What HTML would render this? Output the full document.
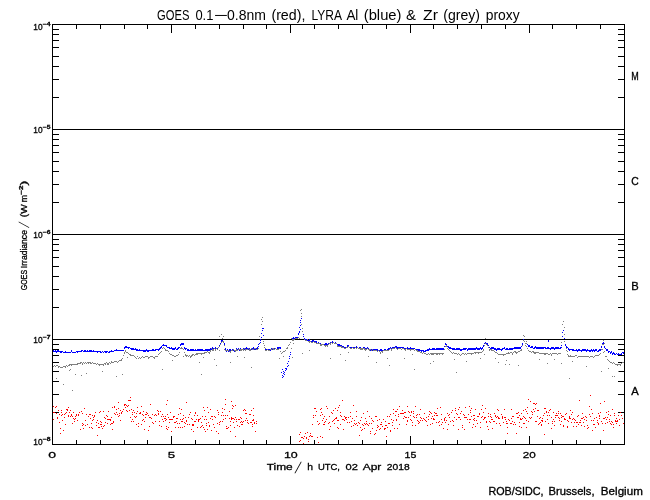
<!DOCTYPE html>
<html><head><meta charset="utf-8"><title>GOES / LYRA proxy</title>
<style>html,body{margin:0;padding:0;background:#fff}svg{display:block;will-change:transform}text{font-family:"Liberation Sans",sans-serif;fill:#000}</style></head>
<body>
<svg width="650" height="500" viewBox="0 0 650 500">
<rect width="650" height="500" fill="#fff"/>
<path shape-rendering="crispEdges" fill="#000" d="M52 24h573v1h-573zM52 444h573v1h-573zM52 24h1v421h-1zM624 24h1v421h-1zM52 129h573v1h-573zM52 234h573v1h-573zM52 339h573v1h-573zM52 436h1v8h-1zM52 24h1v9h-1zM76 440h1v4h-1zM76 24h1v5h-1zM100 440h1v4h-1zM100 24h1v5h-1zM124 440h1v4h-1zM124 24h1v5h-1zM147 440h1v4h-1zM147 24h1v5h-1zM171 436h1v8h-1zM171 24h1v9h-1zM195 440h1v4h-1zM195 24h1v5h-1zM219 440h1v4h-1zM219 24h1v5h-1zM243 440h1v4h-1zM243 24h1v5h-1zM266 440h1v4h-1zM266 24h1v5h-1zM290 436h1v8h-1zM290 24h1v9h-1zM314 440h1v4h-1zM314 24h1v5h-1zM338 440h1v4h-1zM338 24h1v5h-1zM362 440h1v4h-1zM362 24h1v5h-1zM386 440h1v4h-1zM386 24h1v5h-1zM410 436h1v8h-1zM410 24h1v9h-1zM433 440h1v4h-1zM433 24h1v5h-1zM457 440h1v4h-1zM457 24h1v5h-1zM481 440h1v4h-1zM481 24h1v5h-1zM505 440h1v4h-1zM505 24h1v5h-1zM529 436h1v8h-1zM529 24h1v9h-1zM552 440h1v4h-1zM552 24h1v5h-1zM576 440h1v4h-1zM576 24h1v5h-1zM600 440h1v4h-1zM600 24h1v5h-1zM624 440h1v4h-1zM624 24h1v5h-1zM52 97h7v1h-7zM618 97h7v1h-7zM52 79h7v1h-7zM618 79h7v1h-7zM52 66h7v1h-7zM618 66h7v1h-7zM52 56h7v1h-7zM618 56h7v1h-7zM52 47h7v1h-7zM618 47h7v1h-7zM52 40h7v1h-7zM618 40h7v1h-7zM52 34h7v1h-7zM618 34h7v1h-7zM52 29h7v1h-7zM618 29h7v1h-7zM52 202h7v1h-7zM618 202h7v1h-7zM52 184h7v1h-7zM618 184h7v1h-7zM52 171h7v1h-7zM618 171h7v1h-7zM52 161h7v1h-7zM618 161h7v1h-7zM52 152h7v1h-7zM618 152h7v1h-7zM52 145h7v1h-7zM618 145h7v1h-7zM52 139h7v1h-7zM618 139h7v1h-7zM52 134h7v1h-7zM618 134h7v1h-7zM52 307h7v1h-7zM618 307h7v1h-7zM52 289h7v1h-7zM618 289h7v1h-7zM52 276h7v1h-7zM618 276h7v1h-7zM52 266h7v1h-7zM618 266h7v1h-7zM52 257h7v1h-7zM618 257h7v1h-7zM52 250h7v1h-7zM618 250h7v1h-7zM52 244h7v1h-7zM618 244h7v1h-7zM52 239h7v1h-7zM618 239h7v1h-7zM52 412h7v1h-7zM618 412h7v1h-7zM52 394h7v1h-7zM618 394h7v1h-7zM52 381h7v1h-7zM618 381h7v1h-7zM52 371h7v1h-7zM618 371h7v1h-7zM52 362h7v1h-7zM618 362h7v1h-7zM52 355h7v1h-7zM618 355h7v1h-7zM52 349h7v1h-7zM618 349h7v1h-7zM52 344h7v1h-7zM618 344h7v1h-7z"/>
<g shape-rendering="crispEdges">
<path fill="#ff0000" d="M53 406h1v1h-1zM53 412h1v1h-1zM53 419h1v1h-1zM54 412h1v1h-1zM55 407h1v1h-1zM55 407h1v1h-1zM56 406h1v1h-1zM56 413h1v1h-1zM57 417h1v1h-1zM57 418h1v1h-1zM58 410h1v1h-1zM59 414h1v1h-1zM59 422h1v1h-1zM60 433h1v1h-1zM60 428h1v1h-1zM61 410h1v1h-1zM61 415h1v1h-1zM61 412h1v1h-1zM62 420h1v1h-1zM62 414h1v1h-1zM63 430h1v1h-1zM64 417h1v1h-1zM64 414h1v1h-1zM65 424h1v1h-1zM65 413h1v1h-1zM66 412h1v1h-1zM66 409h1v1h-1zM67 410h1v1h-1zM67 409h1v1h-1zM68 415h1v1h-1zM68 407h1v1h-1zM68 416h1v1h-1zM69 412h1v1h-1zM70 416h1v1h-1zM70 410h1v1h-1zM71 414h1v1h-1zM71 415h1v1h-1zM72 423h1v1h-1zM72 416h1v1h-1zM73 418h1v1h-1zM73 412h1v1h-1zM74 419h1v1h-1zM74 421h1v1h-1zM75 418h1v1h-1zM75 416h1v1h-1zM76 415h1v1h-1zM76 414h1v1h-1zM77 420h1v1h-1zM78 415h1v1h-1zM78 414h1v1h-1zM79 412h1v1h-1zM80 429h1v1h-1zM81 411h1v1h-1zM82 423h1v1h-1zM82 425h1v1h-1zM82 413h1v1h-1zM83 424h1v1h-1zM83 428h1v1h-1zM84 408h1v1h-1zM85 425h1v1h-1zM85 420h1v1h-1zM86 414h1v1h-1zM87 424h1v1h-1zM88 416h1v1h-1zM89 414h1v1h-1zM89 427h1v1h-1zM90 414h1v1h-1zM90 418h1v1h-1zM91 423h1v1h-1zM91 427h1v1h-1zM92 415h1v1h-1zM92 420h1v1h-1zM92 428h1v1h-1zM93 419h1v1h-1zM93 417h1v1h-1zM94 415h1v1h-1zM94 416h1v1h-1zM94 415h1v1h-1zM95 412h1v1h-1zM96 422h1v1h-1zM96 425h1v1h-1zM97 420h1v1h-1zM97 435h1v1h-1zM98 427h1v1h-1zM98 423h1v1h-1zM99 412h1v1h-1zM99 427h1v1h-1zM100 411h1v1h-1zM100 421h1v1h-1zM100 424h1v1h-1zM101 422h1v1h-1zM101 424h1v1h-1zM101 426h1v1h-1zM102 428h1v1h-1zM103 426h1v1h-1zM103 411h1v1h-1zM104 417h1v1h-1zM104 425h1v1h-1zM105 418h1v1h-1zM105 422h1v1h-1zM106 415h1v1h-1zM107 423h1v1h-1zM107 419h1v1h-1zM107 416h1v1h-1zM108 411h1v1h-1zM108 419h1v1h-1zM109 419h1v1h-1zM110 420h1v1h-1zM110 419h1v1h-1zM110 424h1v1h-1zM111 423h1v1h-1zM111 417h1v1h-1zM112 423h1v1h-1zM112 407h1v1h-1zM112 429h1v1h-1zM113 422h1v1h-1zM113 421h1v1h-1zM114 413h1v1h-1zM114 406h1v1h-1zM114 407h1v1h-1zM115 414h1v1h-1zM116 412h1v1h-1zM116 409h1v1h-1zM117 414h1v1h-1zM118 408h1v1h-1zM118 416h1v1h-1zM118 402h1v1h-1zM119 415h1v1h-1zM119 413h1v1h-1zM120 410h1v1h-1zM120 420h1v1h-1zM121 412h1v1h-1zM121 413h1v1h-1zM122 411h1v1h-1zM123 409h1v1h-1zM124 404h1v1h-1zM124 405h1v1h-1zM125 407h1v1h-1zM125 404h1v1h-1zM126 405h1v1h-1zM126 410h1v1h-1zM127 406h1v1h-1zM127 411h1v1h-1zM127 411h1v1h-1zM128 400h1v1h-1zM128 405h1v1h-1zM129 410h1v1h-1zM129 400h1v1h-1zM130 400h1v1h-1zM130 397h1v1h-1zM130 417h1v1h-1zM131 421h1v1h-1zM131 409h1v1h-1zM132 412h1v1h-1zM132 419h1v1h-1zM132 414h1v1h-1zM133 421h1v1h-1zM133 410h1v1h-1zM134 412h1v1h-1zM134 416h1v1h-1zM135 417h1v1h-1zM136 413h1v1h-1zM136 424h1v1h-1zM136 416h1v1h-1zM137 411h1v1h-1zM137 407h1v1h-1zM138 423h1v1h-1zM138 426h1v1h-1zM139 413h1v1h-1zM140 413h1v1h-1zM140 412h1v1h-1zM141 424h1v1h-1zM141 406h1v1h-1zM142 414h1v1h-1zM142 420h1v1h-1zM143 415h1v1h-1zM143 411h1v1h-1zM143 419h1v1h-1zM144 429h1v1h-1zM144 421h1v1h-1zM145 417h1v1h-1zM145 414h1v1h-1zM146 412h1v1h-1zM146 414h1v1h-1zM147 413h1v1h-1zM148 430h1v1h-1zM148 415h1v1h-1zM149 426h1v1h-1zM149 417h1v1h-1zM150 404h1v1h-1zM150 417h1v1h-1zM151 418h1v1h-1zM152 422h1v1h-1zM152 414h1v1h-1zM153 423h1v1h-1zM154 415h1v1h-1zM154 415h1v1h-1zM155 414h1v1h-1zM155 421h1v1h-1zM156 415h1v1h-1zM157 410h1v1h-1zM158 414h1v1h-1zM158 411h1v1h-1zM158 413h1v1h-1zM159 425h1v1h-1zM159 421h1v1h-1zM160 411h1v1h-1zM161 426h1v1h-1zM161 416h1v1h-1zM162 419h1v1h-1zM162 414h1v1h-1zM163 416h1v1h-1zM163 421h1v1h-1zM164 418h1v1h-1zM164 418h1v1h-1zM165 420h1v1h-1zM165 418h1v1h-1zM165 416h1v1h-1zM166 419h1v1h-1zM166 426h1v1h-1zM166 428h1v1h-1zM167 400h1v1h-1zM167 414h1v1h-1zM167 429h1v1h-1zM168 417h1v1h-1zM168 427h1v1h-1zM169 422h1v1h-1zM169 419h1v1h-1zM170 419h1v1h-1zM170 412h1v1h-1zM171 431h1v1h-1zM171 419h1v1h-1zM172 419h1v1h-1zM173 416h1v1h-1zM173 417h1v1h-1zM174 422h1v1h-1zM174 416h1v1h-1zM175 427h1v1h-1zM175 422h1v1h-1zM176 418h1v1h-1zM176 418h1v1h-1zM176 421h1v1h-1zM177 418h1v1h-1zM177 423h1v1h-1zM178 414h1v1h-1zM178 427h1v1h-1zM179 408h1v1h-1zM179 423h1v1h-1zM180 413h1v1h-1zM180 427h1v1h-1zM180 419h1v1h-1zM181 421h1v1h-1zM181 409h1v1h-1zM182 421h1v1h-1zM182 427h1v1h-1zM182 419h1v1h-1zM183 415h1v1h-1zM183 418h1v1h-1zM184 422h1v1h-1zM184 426h1v1h-1zM185 417h1v1h-1zM185 423h1v1h-1zM186 421h1v1h-1zM186 420h1v1h-1zM187 424h1v1h-1zM188 417h1v1h-1zM188 417h1v1h-1zM189 414h1v1h-1zM189 424h1v1h-1zM190 412h1v1h-1zM191 429h1v1h-1zM191 418h1v1h-1zM192 424h1v1h-1zM192 425h1v1h-1zM192 419h1v1h-1zM193 425h1v1h-1zM193 431h1v1h-1zM193 424h1v1h-1zM194 421h1v1h-1zM194 415h1v1h-1zM195 413h1v1h-1zM195 421h1v1h-1zM195 412h1v1h-1zM196 419h1v1h-1zM196 419h1v1h-1zM197 415h1v1h-1zM197 427h1v1h-1zM198 421h1v1h-1zM198 419h1v1h-1zM198 420h1v1h-1zM199 419h1v1h-1zM200 418h1v1h-1zM200 427h1v1h-1zM201 426h1v1h-1zM201 422h1v1h-1zM202 425h1v1h-1zM202 416h1v1h-1zM203 427h1v1h-1zM203 407h1v1h-1zM204 429h1v1h-1zM204 419h1v1h-1zM204 410h1v1h-1zM205 431h1v1h-1zM205 416h1v1h-1zM206 419h1v1h-1zM206 423h1v1h-1zM206 425h1v1h-1zM207 429h1v1h-1zM207 407h1v1h-1zM208 412h1v1h-1zM208 422h1v1h-1zM209 425h1v1h-1zM209 426h1v1h-1zM210 418h1v1h-1zM210 409h1v1h-1zM211 430h1v1h-1zM211 416h1v1h-1zM212 416h1v1h-1zM212 419h1v1h-1zM213 424h1v1h-1zM213 424h1v1h-1zM214 416h1v1h-1zM214 427h1v1h-1zM215 417h1v1h-1zM216 431h1v1h-1zM217 423h1v1h-1zM217 410h1v1h-1zM218 433h1v1h-1zM218 412h1v1h-1zM218 414h1v1h-1zM219 422h1v1h-1zM219 424h1v1h-1zM220 421h1v1h-1zM221 415h1v1h-1zM221 415h1v1h-1zM222 421h1v1h-1zM222 412h1v1h-1zM223 419h1v1h-1zM223 415h1v1h-1zM224 409h1v1h-1zM225 415h1v1h-1zM225 418h1v1h-1zM226 426h1v1h-1zM226 428h1v1h-1zM227 428h1v1h-1zM227 415h1v1h-1zM228 427h1v1h-1zM228 427h1v1h-1zM229 418h1v1h-1zM229 411h1v1h-1zM230 421h1v1h-1zM230 425h1v1h-1zM230 431h1v1h-1zM231 419h1v1h-1zM231 417h1v1h-1zM231 418h1v1h-1zM232 418h1v1h-1zM233 406h1v1h-1zM233 422h1v1h-1zM233 418h1v1h-1zM234 427h1v1h-1zM234 419h1v1h-1zM235 417h1v1h-1zM235 436h1v1h-1zM236 421h1v1h-1zM236 419h1v1h-1zM237 425h1v1h-1zM238 419h1v1h-1zM239 426h1v1h-1zM239 419h1v1h-1zM239 426h1v1h-1zM240 422h1v1h-1zM240 417h1v1h-1zM241 421h1v1h-1zM241 418h1v1h-1zM241 424h1v1h-1zM242 424h1v1h-1zM242 422h1v1h-1zM243 410h1v1h-1zM243 421h1v1h-1zM244 409h1v1h-1zM245 420h1v1h-1zM245 410h1v1h-1zM245 413h1v1h-1zM246 413h1v1h-1zM246 418h1v1h-1zM247 420h1v1h-1zM247 422h1v1h-1zM248 423h1v1h-1zM249 414h1v1h-1zM250 422h1v1h-1zM250 414h1v1h-1zM251 410h1v1h-1zM251 422h1v1h-1zM252 420h1v1h-1zM252 426h1v1h-1zM252 424h1v1h-1zM253 419h1v1h-1zM253 420h1v1h-1zM253 415h1v1h-1zM254 422h1v1h-1zM254 423h1v1h-1zM255 431h1v1h-1zM256 421h1v1h-1zM256 423h1v1h-1zM299 441h1v1h-1zM299 434h1v1h-1zM300 440h1v1h-1zM300 432h1v1h-1zM301 437h1v1h-1zM302 437h1v1h-1zM303 443h1v1h-1zM303 438h1v1h-1zM304 436h1v1h-1zM305 433h1v1h-1zM306 438h1v1h-1zM306 437h1v1h-1zM307 432h1v1h-1zM308 439h1v1h-1zM308 441h1v1h-1zM309 436h1v1h-1zM310 433h1v1h-1zM310 435h1v1h-1zM311 436h1v1h-1zM311 436h1v1h-1zM312 436h1v1h-1zM312 424h1v1h-1zM313 417h1v1h-1zM313 415h1v1h-1zM314 408h1v1h-1zM315 408h1v1h-1zM315 415h1v1h-1zM316 411h1v1h-1zM317 437h1v1h-1zM317 421h1v1h-1zM318 442h1v1h-1zM318 424h1v1h-1zM319 423h1v1h-1zM320 436h1v1h-1zM320 415h1v1h-1zM320 409h1v1h-1zM321 412h1v1h-1zM321 408h1v1h-1zM322 437h1v1h-1zM322 420h1v1h-1zM322 414h1v1h-1zM323 418h1v1h-1zM323 424h1v1h-1zM324 416h1v1h-1zM324 424h1v1h-1zM324 422h1v1h-1zM325 421h1v1h-1zM326 419h1v1h-1zM326 406h1v1h-1zM327 408h1v1h-1zM328 423h1v1h-1zM329 422h1v1h-1zM329 429h1v1h-1zM329 416h1v1h-1zM330 426h1v1h-1zM331 412h1v1h-1zM332 421h1v1h-1zM332 413h1v1h-1zM333 410h1v1h-1zM333 420h1v1h-1zM334 423h1v1h-1zM334 419h1v1h-1zM335 418h1v1h-1zM335 408h1v1h-1zM336 418h1v1h-1zM336 417h1v1h-1zM337 427h1v1h-1zM337 410h1v1h-1zM337 420h1v1h-1zM338 407h1v1h-1zM338 428h1v1h-1zM338 420h1v1h-1zM339 405h1v1h-1zM340 412h1v1h-1zM340 415h1v1h-1zM340 424h1v1h-1zM341 416h1v1h-1zM342 400h1v1h-1zM342 419h1v1h-1zM343 429h1v1h-1zM343 419h1v1h-1zM344 420h1v1h-1zM344 416h1v1h-1zM345 418h1v1h-1zM345 417h1v1h-1zM346 419h1v1h-1zM346 417h1v1h-1zM347 422h1v1h-1zM348 417h1v1h-1zM349 422h1v1h-1zM350 416h1v1h-1zM350 412h1v1h-1zM351 426h1v1h-1zM351 421h1v1h-1zM352 418h1v1h-1zM353 405h1v1h-1zM353 425h1v1h-1zM354 420h1v1h-1zM354 423h1v1h-1zM355 424h1v1h-1zM356 416h1v1h-1zM356 411h1v1h-1zM356 423h1v1h-1zM357 425h1v1h-1zM358 422h1v1h-1zM359 435h1v1h-1zM359 423h1v1h-1zM360 420h1v1h-1zM360 427h1v1h-1zM361 430h1v1h-1zM361 417h1v1h-1zM362 429h1v1h-1zM362 424h1v1h-1zM363 413h1v1h-1zM363 425h1v1h-1zM364 423h1v1h-1zM364 428h1v1h-1zM365 424h1v1h-1zM365 418h1v1h-1zM366 423h1v1h-1zM366 421h1v1h-1zM367 424h1v1h-1zM367 411h1v1h-1zM368 425h1v1h-1zM369 423h1v1h-1zM369 416h1v1h-1zM370 433h1v1h-1zM370 431h1v1h-1zM371 418h1v1h-1zM371 423h1v1h-1zM372 428h1v1h-1zM372 420h1v1h-1zM373 421h1v1h-1zM373 421h1v1h-1zM374 434h1v1h-1zM375 433h1v1h-1zM375 416h1v1h-1zM376 416h1v1h-1zM376 430h1v1h-1zM377 425h1v1h-1zM377 420h1v1h-1zM377 427h1v1h-1zM378 426h1v1h-1zM379 419h1v1h-1zM379 429h1v1h-1zM380 424h1v1h-1zM380 428h1v1h-1zM381 424h1v1h-1zM381 422h1v1h-1zM382 426h1v1h-1zM383 419h1v1h-1zM384 428h1v1h-1zM384 429h1v1h-1zM385 421h1v1h-1zM385 425h1v1h-1zM385 428h1v1h-1zM386 425h1v1h-1zM386 436h1v1h-1zM387 416h1v1h-1zM387 427h1v1h-1zM388 423h1v1h-1zM388 423h1v1h-1zM389 416h1v1h-1zM389 423h1v1h-1zM390 431h1v1h-1zM390 430h1v1h-1zM390 414h1v1h-1zM391 419h1v1h-1zM392 422h1v1h-1zM392 425h1v1h-1zM393 413h1v1h-1zM393 409h1v1h-1zM393 420h1v1h-1zM394 428h1v1h-1zM395 415h1v1h-1zM395 411h1v1h-1zM396 420h1v1h-1zM396 411h1v1h-1zM396 419h1v1h-1zM397 428h1v1h-1zM397 409h1v1h-1zM398 414h1v1h-1zM398 416h1v1h-1zM399 406h1v1h-1zM399 424h1v1h-1zM400 413h1v1h-1zM401 413h1v1h-1zM402 413h1v1h-1zM402 410h1v1h-1zM403 418h1v1h-1zM403 413h1v1h-1zM404 412h1v1h-1zM404 416h1v1h-1zM405 417h1v1h-1zM405 412h1v1h-1zM406 424h1v1h-1zM406 417h1v1h-1zM407 420h1v1h-1zM407 421h1v1h-1zM407 406h1v1h-1zM408 411h1v1h-1zM408 417h1v1h-1zM409 412h1v1h-1zM410 415h1v1h-1zM410 419h1v1h-1zM411 412h1v1h-1zM411 411h1v1h-1zM411 420h1v1h-1zM412 425h1v1h-1zM412 422h1v1h-1zM413 411h1v1h-1zM413 413h1v1h-1zM413 416h1v1h-1zM414 417h1v1h-1zM414 417h1v1h-1zM415 406h1v1h-1zM415 425h1v1h-1zM416 415h1v1h-1zM416 417h1v1h-1zM417 420h1v1h-1zM417 414h1v1h-1zM418 423h1v1h-1zM418 421h1v1h-1zM419 414h1v1h-1zM419 422h1v1h-1zM420 420h1v1h-1zM420 409h1v1h-1zM420 417h1v1h-1zM421 418h1v1h-1zM422 420h1v1h-1zM423 418h1v1h-1zM423 418h1v1h-1zM424 413h1v1h-1zM424 419h1v1h-1zM425 420h1v1h-1zM426 417h1v1h-1zM426 421h1v1h-1zM427 425h1v1h-1zM428 419h1v1h-1zM428 416h1v1h-1zM429 411h1v1h-1zM429 414h1v1h-1zM430 424h1v1h-1zM430 412h1v1h-1zM431 418h1v1h-1zM431 413h1v1h-1zM432 416h1v1h-1zM432 423h1v1h-1zM433 419h1v1h-1zM433 418h1v1h-1zM434 419h1v1h-1zM434 415h1v1h-1zM434 412h1v1h-1zM435 413h1v1h-1zM436 413h1v1h-1zM436 415h1v1h-1zM436 422h1v1h-1zM437 408h1v1h-1zM437 415h1v1h-1zM438 422h1v1h-1zM439 421h1v1h-1zM439 425h1v1h-1zM440 407h1v1h-1zM441 424h1v1h-1zM441 419h1v1h-1zM441 414h1v1h-1zM442 422h1v1h-1zM443 428h1v1h-1zM444 419h1v1h-1zM444 420h1v1h-1zM444 418h1v1h-1zM445 417h1v1h-1zM445 422h1v1h-1zM446 420h1v1h-1zM446 420h1v1h-1zM447 429h1v1h-1zM447 413h1v1h-1zM448 424h1v1h-1zM448 415h1v1h-1zM449 417h1v1h-1zM449 414h1v1h-1zM450 421h1v1h-1zM451 412h1v1h-1zM452 420h1v1h-1zM452 410h1v1h-1zM453 421h1v1h-1zM453 425h1v1h-1zM454 417h1v1h-1zM454 417h1v1h-1zM455 408h1v1h-1zM455 410h1v1h-1zM456 419h1v1h-1zM456 413h1v1h-1zM457 414h1v1h-1zM457 414h1v1h-1zM458 409h1v1h-1zM458 417h1v1h-1zM458 429h1v1h-1zM459 417h1v1h-1zM459 407h1v1h-1zM460 413h1v1h-1zM460 419h1v1h-1zM461 411h1v1h-1zM462 425h1v1h-1zM462 427h1v1h-1zM463 414h1v1h-1zM464 429h1v1h-1zM464 415h1v1h-1zM464 417h1v1h-1zM465 407h1v1h-1zM465 417h1v1h-1zM466 417h1v1h-1zM467 419h1v1h-1zM468 414h1v1h-1zM468 414h1v1h-1zM469 406h1v1h-1zM469 419h1v1h-1zM469 422h1v1h-1zM470 412h1v1h-1zM470 419h1v1h-1zM470 410h1v1h-1zM471 416h1v1h-1zM471 408h1v1h-1zM472 427h1v1h-1zM473 424h1v1h-1zM473 419h1v1h-1zM473 415h1v1h-1zM474 418h1v1h-1zM474 415h1v1h-1zM474 420h1v1h-1zM475 409h1v1h-1zM475 426h1v1h-1zM476 420h1v1h-1zM477 416h1v1h-1zM477 423h1v1h-1zM478 416h1v1h-1zM479 413h1v1h-1zM479 414h1v1h-1zM480 422h1v1h-1zM480 427h1v1h-1zM481 409h1v1h-1zM481 409h1v1h-1zM481 417h1v1h-1zM482 405h1v1h-1zM482 416h1v1h-1zM483 419h1v1h-1zM483 412h1v1h-1zM484 417h1v1h-1zM484 418h1v1h-1zM485 408h1v1h-1zM485 417h1v1h-1zM486 421h1v1h-1zM486 422h1v1h-1zM487 426h1v1h-1zM488 416h1v1h-1zM488 413h1v1h-1zM488 429h1v1h-1zM489 421h1v1h-1zM490 416h1v1h-1zM490 414h1v1h-1zM490 422h1v1h-1zM491 417h1v1h-1zM491 419h1v1h-1zM492 428h1v1h-1zM492 419h1v1h-1zM493 421h1v1h-1zM493 421h1v1h-1zM494 421h1v1h-1zM494 413h1v1h-1zM495 415h1v1h-1zM495 416h1v1h-1zM495 416h1v1h-1zM496 423h1v1h-1zM496 417h1v1h-1zM497 416h1v1h-1zM497 409h1v1h-1zM498 417h1v1h-1zM498 418h1v1h-1zM498 410h1v1h-1zM499 418h1v1h-1zM499 423h1v1h-1zM500 425h1v1h-1zM501 414h1v1h-1zM501 414h1v1h-1zM502 418h1v1h-1zM502 416h1v1h-1zM502 417h1v1h-1zM503 422h1v1h-1zM504 417h1v1h-1zM504 409h1v1h-1zM505 419h1v1h-1zM505 417h1v1h-1zM506 423h1v1h-1zM506 423h1v1h-1zM506 421h1v1h-1zM507 433h1v1h-1zM507 423h1v1h-1zM507 427h1v1h-1zM508 419h1v1h-1zM508 419h1v1h-1zM509 420h1v1h-1zM510 423h1v1h-1zM511 409h1v1h-1zM511 418h1v1h-1zM511 423h1v1h-1zM512 421h1v1h-1zM512 416h1v1h-1zM513 416h1v1h-1zM513 424h1v1h-1zM514 422h1v1h-1zM515 424h1v1h-1zM515 424h1v1h-1zM516 413h1v1h-1zM516 433h1v1h-1zM517 413h1v1h-1zM517 417h1v1h-1zM518 412h1v1h-1zM518 417h1v1h-1zM519 415h1v1h-1zM519 426h1v1h-1zM519 422h1v1h-1zM520 418h1v1h-1zM520 419h1v1h-1zM521 427h1v1h-1zM521 413h1v1h-1zM521 419h1v1h-1zM522 418h1v1h-1zM523 423h1v1h-1zM523 410h1v1h-1zM523 416h1v1h-1zM524 417h1v1h-1zM524 423h1v1h-1zM525 409h1v1h-1zM525 418h1v1h-1zM526 427h1v1h-1zM526 420h1v1h-1zM526 411h1v1h-1zM527 413h1v1h-1zM527 407h1v1h-1zM528 421h1v1h-1zM528 399h1v1h-1zM529 417h1v1h-1zM530 418h1v1h-1zM530 401h1v1h-1zM531 417h1v1h-1zM531 411h1v1h-1zM532 414h1v1h-1zM532 412h1v1h-1zM533 409h1v1h-1zM533 403h1v1h-1zM534 411h1v1h-1zM534 403h1v1h-1zM535 421h1v1h-1zM535 404h1v1h-1zM535 408h1v1h-1zM536 403h1v1h-1zM536 421h1v1h-1zM537 416h1v1h-1zM537 410h1v1h-1zM538 410h1v1h-1zM538 424h1v1h-1zM539 423h1v1h-1zM539 418h1v1h-1zM539 418h1v1h-1zM540 417h1v1h-1zM540 422h1v1h-1zM541 420h1v1h-1zM541 424h1v1h-1zM541 425h1v1h-1zM542 418h1v1h-1zM542 421h1v1h-1zM542 420h1v1h-1zM543 415h1v1h-1zM544 413h1v1h-1zM544 434h1v1h-1zM544 408h1v1h-1zM545 408h1v1h-1zM545 421h1v1h-1zM546 411h1v1h-1zM546 412h1v1h-1zM547 419h1v1h-1zM547 415h1v1h-1zM548 412h1v1h-1zM548 423h1v1h-1zM549 415h1v1h-1zM549 410h1v1h-1zM549 415h1v1h-1zM550 409h1v1h-1zM551 428h1v1h-1zM551 417h1v1h-1zM552 423h1v1h-1zM552 421h1v1h-1zM553 419h1v1h-1zM553 412h1v1h-1zM554 425h1v1h-1zM554 421h1v1h-1zM555 417h1v1h-1zM555 415h1v1h-1zM556 415h1v1h-1zM556 413h1v1h-1zM557 415h1v1h-1zM558 413h1v1h-1zM558 411h1v1h-1zM558 417h1v1h-1zM559 420h1v1h-1zM559 420h1v1h-1zM559 418h1v1h-1zM560 424h1v1h-1zM560 413h1v1h-1zM561 415h1v1h-1zM561 417h1v1h-1zM561 421h1v1h-1zM562 416h1v1h-1zM563 426h1v1h-1zM563 416h1v1h-1zM563 425h1v1h-1zM564 419h1v1h-1zM564 418h1v1h-1zM565 414h1v1h-1zM565 419h1v1h-1zM566 413h1v1h-1zM566 413h1v1h-1zM567 426h1v1h-1zM567 427h1v1h-1zM567 420h1v1h-1zM568 421h1v1h-1zM569 416h1v1h-1zM569 417h1v1h-1zM569 418h1v1h-1zM570 410h1v1h-1zM570 418h1v1h-1zM571 414h1v1h-1zM571 422h1v1h-1zM572 412h1v1h-1zM572 419h1v1h-1zM573 426h1v1h-1zM573 418h1v1h-1zM574 419h1v1h-1zM574 422h1v1h-1zM575 420h1v1h-1zM576 426h1v1h-1zM576 422h1v1h-1zM577 416h1v1h-1zM577 422h1v1h-1zM578 424h1v1h-1zM578 415h1v1h-1zM579 422h1v1h-1zM579 400h1v1h-1zM580 420h1v1h-1zM580 422h1v1h-1zM581 425h1v1h-1zM581 418h1v1h-1zM582 418h1v1h-1zM582 413h1v1h-1zM583 422h1v1h-1zM583 417h1v1h-1zM584 426h1v1h-1zM584 419h1v1h-1zM585 416h1v1h-1zM586 420h1v1h-1zM586 417h1v1h-1zM587 428h1v1h-1zM587 425h1v1h-1zM588 427h1v1h-1zM589 414h1v1h-1zM589 406h1v1h-1zM590 395h1v1h-1zM590 416h1v1h-1zM591 409h1v1h-1zM591 420h1v1h-1zM592 430h1v1h-1zM592 413h1v1h-1zM593 424h1v1h-1zM593 420h1v1h-1zM594 418h1v1h-1zM594 424h1v1h-1zM595 427h1v1h-1zM596 417h1v1h-1zM597 422h1v1h-1zM597 420h1v1h-1zM598 423h1v1h-1zM598 413h1v1h-1zM598 424h1v1h-1zM599 416h1v1h-1zM599 418h1v1h-1zM599 415h1v1h-1zM600 412h1v1h-1zM600 403h1v1h-1zM601 421h1v1h-1zM602 423h1v1h-1zM602 423h1v1h-1zM603 418h1v1h-1zM603 430h1v1h-1zM604 401h1v1h-1zM604 418h1v1h-1zM605 423h1v1h-1zM605 417h1v1h-1zM606 412h1v1h-1zM606 419h1v1h-1zM607 422h1v1h-1zM607 417h1v1h-1zM608 414h1v1h-1zM608 411h1v1h-1zM609 421h1v1h-1zM609 419h1v1h-1zM610 423h1v1h-1zM610 415h1v1h-1zM611 421h1v1h-1zM611 424h1v1h-1zM612 409h1v1h-1zM612 422h1v1h-1zM613 424h1v1h-1zM613 427h1v1h-1zM614 413h1v1h-1zM614 415h1v1h-1zM615 420h1v1h-1zM615 421h1v1h-1zM616 421h1v1h-1zM616 423h1v1h-1zM616 418h1v1h-1zM617 421h1v1h-1zM617 420h1v1h-1zM618 415h1v1h-1zM618 415h1v1h-1zM618 415h1v1h-1zM619 419h1v1h-1zM619 425h1v1h-1zM620 412h1v1h-1zM621 415h1v1h-1zM622 418h1v1h-1zM623 423h1v1h-1zM623 423h1v1h-1zM222 408h1v1h-1zM225 399h1v1h-1zM225 404h1v1h-1zM231 401h1v1h-1zM232 405h1v1h-1zM232 408h1v1h-1zM235 405h1v1h-1zM253 408h1v1h-1zM186 402h1v1h-1zM166 404h1v1h-1z"/>
<path fill="#0000ff" d="M53 350h1v2h-1zM54 351h1v1h-1zM55 350h1v2h-1zM56 351h1v2h-1zM57 350h1v2h-1zM58 350h1v2h-1zM59 351h1v1h-1zM60 351h1v2h-1zM61 351h1v2h-1zM62 351h1v1h-1zM63 352h1v1h-1zM64 352h1v1h-1zM65 351h1v2h-1zM66 352h1v1h-1zM67 352h1v1h-1zM68 352h1v1h-1zM69 352h1v1h-1zM70 352h1v1h-1zM71 350h1v2h-1zM72 352h1v1h-1zM73 352h1v1h-1zM74 352h1v1h-1zM75 352h1v1h-1zM76 351h1v1h-1zM77 351h1v2h-1zM78 351h1v1h-1zM79 351h1v1h-1zM80 351h1v1h-1zM81 350h1v2h-1zM82 350h1v1h-1zM83 351h1v1h-1zM84 350h1v2h-1zM85 350h1v2h-1zM86 351h1v1h-1zM87 350h1v2h-1zM88 351h1v1h-1zM89 350h1v2h-1zM90 350h1v2h-1zM91 350h1v2h-1zM92 351h1v1h-1zM93 350h1v2h-1zM94 351h1v1h-1zM95 351h1v1h-1zM96 351h1v1h-1zM97 351h1v2h-1zM98 351h1v1h-1zM99 351h1v1h-1zM100 351h1v2h-1zM101 352h1v1h-1zM102 351h1v1h-1zM103 352h1v1h-1zM104 351h1v1h-1zM105 351h1v2h-1zM106 351h1v2h-1zM107 351h1v1h-1zM108 352h1v1h-1zM109 351h1v2h-1zM110 351h1v1h-1zM111 350h1v2h-1zM112 351h1v1h-1zM113 351h1v1h-1zM114 350h1v1h-1zM115 350h1v1h-1zM116 349h1v2h-1zM117 350h1v1h-1zM118 350h1v1h-1zM119 350h1v1h-1zM120 350h1v1h-1zM121 350h1v1h-1zM122 350h1v1h-1zM123 350h1v1h-1zM124 347h1v2h-1zM125 346h1v2h-1zM126 346h1v2h-1zM127 347h1v1h-1zM128 347h1v2h-1zM129 347h1v1h-1zM130 348h1v1h-1zM131 348h1v2h-1zM132 348h1v2h-1zM133 348h1v2h-1zM134 349h1v1h-1zM135 348h1v2h-1zM136 349h1v2h-1zM137 349h1v2h-1zM138 350h1v1h-1zM139 349h1v2h-1zM140 350h1v1h-1zM141 350h1v1h-1zM142 350h1v1h-1zM143 350h1v2h-1zM144 350h1v2h-1zM145 350h1v2h-1zM146 349h1v2h-1zM147 350h1v2h-1zM148 350h1v2h-1zM149 350h1v1h-1zM150 350h1v1h-1zM151 350h1v1h-1zM152 349h1v2h-1zM153 349h1v2h-1zM154 350h1v1h-1zM155 349h1v2h-1zM156 349h1v1h-1zM157 349h1v1h-1zM158 349h1v2h-1zM159 348h1v2h-1zM160 347h1v2h-1zM161 346h1v2h-1zM162 345h1v1h-1zM163 344h1v2h-1zM164 345h1v1h-1zM165 345h1v1h-1zM166 345h1v2h-1zM167 347h1v1h-1zM168 347h1v1h-1zM169 347h1v2h-1zM170 348h1v1h-1zM171 347h1v2h-1zM172 348h1v2h-1zM173 348h1v2h-1zM174 348h1v2h-1zM175 347h1v2h-1zM176 349h1v1h-1zM177 348h1v2h-1zM178 347h1v2h-1zM179 347h1v1h-1zM180 344h1v2h-1zM181 343h1v2h-1zM182 343h1v2h-1zM183 343h1v2h-1zM184 347h1v2h-1zM185 348h1v2h-1zM186 348h1v1h-1zM187 349h1v2h-1zM188 349h1v2h-1zM189 350h1v1h-1zM190 349h1v2h-1zM191 349h1v2h-1zM192 349h1v2h-1zM193 349h1v2h-1zM194 350h1v1h-1zM195 349h1v2h-1zM196 350h1v1h-1zM197 349h1v2h-1zM198 349h1v2h-1zM199 349h1v2h-1zM200 349h1v2h-1zM201 349h1v2h-1zM202 349h1v2h-1zM203 350h1v1h-1zM204 350h1v1h-1zM205 349h1v2h-1zM206 349h1v2h-1zM207 349h1v2h-1zM208 349h1v2h-1zM209 349h1v2h-1zM210 348h1v2h-1zM211 348h1v2h-1zM212 347h1v2h-1zM213 348h1v2h-1zM214 348h1v1h-1zM215 347h1v2h-1zM216 348h1v1h-1zM217 348h1v1h-1zM218 347h1v1h-1zM219 345h1v2h-1zM220 343h1v1h-1zM221 340h1v2h-1zM222 340h1v2h-1zM223 341h1v1h-1zM224 343h1v2h-1zM225 348h1v2h-1zM226 350h1v2h-1zM227 349h1v2h-1zM228 350h1v2h-1zM229 349h1v2h-1zM230 349h1v2h-1zM231 350h1v1h-1zM232 349h1v2h-1zM233 349h1v2h-1zM234 350h1v2h-1zM235 350h1v1h-1zM236 348h1v2h-1zM237 349h1v2h-1zM238 348h1v2h-1zM239 349h1v2h-1zM240 348h1v2h-1zM241 349h1v2h-1zM242 349h1v1h-1zM243 348h1v2h-1zM244 348h1v2h-1zM245 348h1v2h-1zM246 347h1v2h-1zM247 348h1v1h-1zM248 349h1v1h-1zM249 348h1v2h-1zM250 349h1v1h-1zM251 348h1v2h-1zM252 348h1v1h-1zM253 347h1v2h-1zM254 348h1v2h-1zM255 348h1v2h-1zM256 348h1v1h-1zM257 347h1v2h-1zM265 348h1v2h-1zM266 349h1v1h-1zM267 349h1v1h-1zM268 349h1v1h-1zM269 349h1v2h-1zM270 349h1v2h-1zM271 348h1v1h-1zM272 348h1v2h-1zM273 348h1v2h-1zM274 348h1v1h-1zM275 348h1v1h-1zM276 349h1v1h-1zM277 347h1v2h-1zM278 347h1v2h-1zM279 347h1v2h-1zM280 347h1v2h-1zM291 338h1v1h-1zM292 338h1v2h-1zM293 337h1v2h-1zM294 338h1v1h-1zM295 337h1v2h-1zM296 337h1v2h-1zM297 337h1v1h-1zM304 338h1v1h-1zM305 339h1v1h-1zM306 339h1v2h-1zM307 339h1v2h-1zM308 340h1v2h-1zM309 339h1v2h-1zM310 341h1v1h-1zM311 341h1v1h-1zM312 340h1v2h-1zM313 340h1v2h-1zM314 341h1v1h-1zM315 341h1v2h-1zM316 341h1v2h-1zM317 343h1v1h-1zM318 342h1v2h-1zM319 343h1v1h-1zM320 343h1v1h-1zM321 344h1v2h-1zM322 344h1v1h-1zM323 344h1v1h-1zM324 344h1v1h-1zM325 343h1v2h-1zM326 343h1v2h-1zM327 344h1v1h-1zM328 343h1v2h-1zM329 343h1v1h-1zM330 342h1v2h-1zM331 342h1v1h-1zM332 341h1v2h-1zM333 342h1v1h-1zM334 343h1v1h-1zM335 342h1v2h-1zM336 343h1v1h-1zM337 344h1v2h-1zM338 344h1v2h-1zM339 344h1v2h-1zM340 345h1v1h-1zM341 345h1v2h-1zM342 346h1v1h-1zM343 346h1v2h-1zM344 347h1v1h-1zM345 347h1v2h-1zM346 347h1v1h-1zM347 345h1v2h-1zM348 345h1v2h-1zM349 347h1v1h-1zM350 347h1v2h-1zM351 347h1v2h-1zM352 347h1v1h-1zM353 347h1v2h-1zM354 347h1v1h-1zM355 347h1v1h-1zM356 346h1v2h-1zM357 347h1v1h-1zM358 348h1v1h-1zM359 347h1v1h-1zM360 347h1v1h-1zM361 348h1v1h-1zM362 348h1v1h-1zM363 347h1v2h-1zM364 347h1v2h-1zM365 348h1v2h-1zM366 348h1v1h-1zM367 347h1v2h-1zM368 348h1v1h-1zM369 349h1v1h-1zM370 349h1v2h-1zM371 349h1v1h-1zM372 349h1v2h-1zM373 349h1v2h-1zM374 349h1v2h-1zM375 349h1v1h-1zM376 349h1v2h-1zM377 349h1v2h-1zM378 350h1v1h-1zM379 350h1v2h-1zM380 349h1v2h-1zM381 349h1v2h-1zM382 350h1v2h-1zM383 350h1v1h-1zM384 349h1v2h-1zM385 349h1v1h-1zM386 350h1v1h-1zM387 349h1v2h-1zM388 348h1v2h-1zM389 348h1v1h-1zM390 347h1v2h-1zM391 348h1v1h-1zM392 347h1v1h-1zM393 347h1v1h-1zM394 347h1v1h-1zM395 346h1v2h-1zM396 346h1v2h-1zM397 347h1v2h-1zM398 347h1v1h-1zM399 347h1v2h-1zM400 347h1v2h-1zM401 347h1v1h-1zM402 347h1v2h-1zM403 347h1v1h-1zM404 348h1v1h-1zM405 348h1v1h-1zM406 348h1v1h-1zM407 347h1v2h-1zM408 348h1v1h-1zM409 348h1v1h-1zM410 347h1v2h-1zM411 348h1v1h-1zM412 348h1v2h-1zM413 348h1v2h-1zM414 348h1v1h-1zM415 349h1v1h-1zM416 349h1v2h-1zM417 349h1v2h-1zM418 349h1v2h-1zM419 349h1v2h-1zM420 350h1v1h-1zM421 350h1v2h-1zM422 350h1v1h-1zM423 350h1v2h-1zM424 351h1v1h-1zM425 350h1v2h-1zM426 350h1v1h-1zM427 349h1v2h-1zM428 349h1v2h-1zM429 348h1v2h-1zM430 349h1v1h-1zM431 349h1v1h-1zM432 348h1v2h-1zM433 348h1v2h-1zM434 348h1v2h-1zM435 349h1v1h-1zM436 348h1v2h-1zM437 348h1v2h-1zM438 348h1v2h-1zM439 348h1v2h-1zM440 348h1v2h-1zM441 348h1v2h-1zM442 348h1v2h-1zM443 348h1v2h-1zM444 346h1v1h-1zM445 343h1v2h-1zM446 344h1v2h-1zM447 346h1v1h-1zM448 346h1v2h-1zM449 347h1v2h-1zM450 347h1v2h-1zM451 348h1v1h-1zM452 348h1v2h-1zM453 348h1v2h-1zM454 348h1v2h-1zM455 349h1v1h-1zM456 348h1v2h-1zM457 348h1v2h-1zM458 348h1v2h-1zM459 348h1v2h-1zM460 349h1v2h-1zM461 349h1v2h-1zM462 349h1v1h-1zM463 348h1v2h-1zM464 348h1v2h-1zM465 348h1v2h-1zM466 348h1v1h-1zM467 349h1v2h-1zM468 348h1v2h-1zM469 348h1v2h-1zM470 348h1v2h-1zM471 348h1v2h-1zM472 348h1v2h-1zM473 348h1v2h-1zM474 348h1v2h-1zM475 348h1v2h-1zM476 347h1v2h-1zM477 348h1v2h-1zM478 348h1v2h-1zM479 348h1v2h-1zM480 347h1v2h-1zM481 348h1v2h-1zM482 347h1v2h-1zM483 345h1v2h-1zM484 343h1v1h-1zM485 342h1v2h-1zM486 343h1v2h-1zM487 343h1v2h-1zM488 345h1v1h-1zM489 347h1v1h-1zM490 348h1v1h-1zM491 347h1v2h-1zM492 347h1v2h-1zM493 347h1v2h-1zM494 348h1v2h-1zM495 348h1v2h-1zM496 349h1v2h-1zM497 348h1v2h-1zM498 348h1v2h-1zM499 348h1v2h-1zM500 349h1v1h-1zM501 349h1v2h-1zM502 348h1v2h-1zM503 348h1v1h-1zM504 347h1v2h-1zM505 349h1v1h-1zM506 348h1v2h-1zM507 348h1v2h-1zM508 349h1v1h-1zM509 348h1v2h-1zM510 348h1v2h-1zM511 348h1v2h-1zM512 348h1v2h-1zM513 348h1v1h-1zM514 347h1v2h-1zM515 347h1v2h-1zM516 347h1v2h-1zM517 347h1v2h-1zM518 347h1v2h-1zM519 347h1v2h-1zM520 347h1v2h-1zM521 346h1v1h-1zM522 343h1v2h-1zM523 339h1v2h-1zM527 344h1v1h-1zM528 345h1v2h-1zM529 345h1v2h-1zM530 347h1v1h-1zM531 346h1v2h-1zM532 346h1v2h-1zM533 348h1v1h-1zM534 347h1v2h-1zM535 346h1v2h-1zM536 347h1v2h-1zM537 347h1v2h-1zM538 347h1v2h-1zM539 347h1v2h-1zM540 347h1v2h-1zM541 347h1v2h-1zM542 347h1v2h-1zM543 347h1v2h-1zM544 347h1v1h-1zM545 347h1v2h-1zM546 348h1v1h-1zM547 347h1v2h-1zM548 347h1v2h-1zM549 348h1v1h-1zM550 348h1v2h-1zM551 347h1v2h-1zM552 347h1v2h-1zM553 347h1v2h-1zM554 348h1v2h-1zM555 347h1v2h-1zM556 347h1v2h-1zM557 347h1v2h-1zM558 347h1v2h-1zM559 348h1v1h-1zM560 347h1v2h-1zM566 347h1v1h-1zM567 347h1v1h-1zM568 348h1v2h-1zM569 349h1v2h-1zM570 349h1v1h-1zM571 349h1v1h-1zM572 349h1v2h-1zM573 349h1v2h-1zM574 350h1v1h-1zM575 350h1v1h-1zM576 349h1v2h-1zM577 350h1v2h-1zM578 349h1v2h-1zM579 349h1v2h-1zM580 350h1v1h-1zM581 350h1v2h-1zM582 349h1v2h-1zM583 349h1v2h-1zM584 349h1v2h-1zM585 349h1v2h-1zM586 350h1v2h-1zM587 349h1v2h-1zM588 350h1v1h-1zM589 350h1v2h-1zM590 350h1v2h-1zM591 349h1v2h-1zM592 350h1v2h-1zM593 349h1v2h-1zM594 350h1v2h-1zM595 349h1v2h-1zM596 349h1v2h-1zM597 351h1v1h-1zM598 350h1v2h-1zM599 349h1v2h-1zM600 349h1v2h-1zM601 346h1v2h-1zM602 343h1v1h-1zM603 342h1v2h-1zM604 346h1v2h-1zM605 348h1v1h-1zM606 349h1v2h-1zM607 349h1v2h-1zM608 351h1v2h-1zM609 351h1v1h-1zM610 352h1v2h-1zM611 351h1v2h-1zM612 353h1v2h-1zM613 352h1v2h-1zM614 353h1v2h-1zM615 354h1v1h-1zM616 353h1v1h-1zM617 354h1v1h-1zM618 353h1v2h-1zM619 354h1v1h-1zM620 354h1v1h-1zM621 353h1v2h-1zM622 352h1v1h-1zM623 352h1v2h-1zM262 328h1v1h-1zM263 328h1v1h-1zM262 330h1v1h-1zM261 333h1v1h-1zM263 335h1v1h-1zM261 337h1v1h-1zM260 340h1v1h-1zM260 342h1v1h-1zM259 343h1v1h-1zM258 344h1v1h-1zM258 346h1v1h-1zM257 347h1v1h-1zM260 339h1v1h-1zM563 330h1v1h-1zM562 332h1v1h-1zM562 336h1v1h-1zM564 338h1v1h-1zM561 345h1v1h-1zM561 347h1v1h-1zM565 344h1v1h-1zM565 345h1v1h-1zM566 346h1v1h-1zM548 340h1v1h-1zM548 341h1v1h-1zM298 333h1v1h-1zM298 334h1v1h-1zM299 331h1v1h-1zM299 332h1v1h-1zM299 327h1v1h-1zM300 329h1v1h-1zM300 322h1v1h-1zM300 320h1v1h-1zM301 318h1v1h-1zM300 325h1v1h-1zM303 334h1v1h-1zM303 336h1v1h-1zM304 338h1v1h-1zM304 339h1v1h-1zM282 377h1v1h-1zM282 375h1v1h-1zM281 372h1v1h-1zM283 371h1v1h-1zM282 369h1v1h-1zM284 372h1v1h-1zM285 368h1v1h-1zM286 368h1v1h-1zM287 366h1v1h-1zM288 365h1v1h-1zM286 369h1v1h-1zM284 374h1v1h-1zM283 376h1v1h-1zM283 373h1v1h-1zM285 370h1v1h-1zM287 363h1v1h-1zM288 361h1v1h-1zM289 358h1v1h-1zM289 356h1v1h-1zM290 354h1v1h-1zM290 352h1v1h-1z"/>
<path fill="#7f7f7f" d="M53 366h1v1h-1zM54 365h1v1h-1zM55 366h1v1h-1zM56 365h1v1h-1zM57 365h1v1h-1zM58 366h1v2h-1zM59 366h1v1h-1zM60 367h1v1h-1zM61 367h1v1h-1zM62 367h1v1h-1zM63 366h1v1h-1zM64 366h1v1h-1zM65 366h1v2h-1zM66 365h1v1h-1zM67 366h1v1h-1zM68 365h1v1h-1zM69 364h1v2h-1zM70 364h1v1h-1zM71 364h1v2h-1zM72 364h1v1h-1zM73 364h1v1h-1zM74 364h1v1h-1zM75 364h1v1h-1zM76 364h1v1h-1zM77 363h1v2h-1zM78 363h1v1h-1zM79 363h1v1h-1zM80 362h1v2h-1zM81 362h1v1h-1zM82 363h1v2h-1zM83 362h1v1h-1zM84 363h1v1h-1zM85 362h1v1h-1zM86 363h1v1h-1zM87 362h1v1h-1zM88 362h1v2h-1zM89 362h1v1h-1zM90 362h1v2h-1zM91 363h1v1h-1zM92 362h1v1h-1zM93 363h1v1h-1zM94 363h1v1h-1zM95 363h1v1h-1zM96 364h1v1h-1zM97 363h1v1h-1zM98 364h1v1h-1zM99 364h1v2h-1zM100 364h1v1h-1zM101 364h1v1h-1zM102 364h1v1h-1zM103 364h1v2h-1zM104 363h1v1h-1zM105 363h1v2h-1zM106 362h1v1h-1zM107 363h1v2h-1zM108 363h1v2h-1zM109 362h1v1h-1zM110 363h1v1h-1zM111 361h1v2h-1zM112 362h1v1h-1zM113 362h1v1h-1zM114 361h1v1h-1zM115 361h1v1h-1zM116 361h1v1h-1zM117 362h1v1h-1zM118 361h1v1h-1zM119 360h1v1h-1zM120 360h1v1h-1zM121 359h1v2h-1zM122 358h1v1h-1zM123 355h1v1h-1zM124 352h1v2h-1zM125 350h1v2h-1zM126 352h1v1h-1zM127 352h1v1h-1zM128 353h1v1h-1zM129 354h1v1h-1zM130 354h1v2h-1zM131 355h1v1h-1zM132 355h1v1h-1zM133 355h1v1h-1zM134 356h1v1h-1zM135 357h1v1h-1zM136 358h1v1h-1zM137 356h1v1h-1zM138 358h1v1h-1zM139 357h1v1h-1zM140 358h1v1h-1zM141 357h1v1h-1zM142 356h1v1h-1zM143 357h1v1h-1zM144 357h1v1h-1zM145 356h1v1h-1zM146 356h1v1h-1zM147 356h1v1h-1zM148 357h1v2h-1zM149 357h1v1h-1zM150 356h1v1h-1zM151 356h1v1h-1zM152 356h1v1h-1zM153 357h1v1h-1zM154 357h1v2h-1zM155 356h1v1h-1zM156 356h1v1h-1zM157 356h1v1h-1zM158 354h1v1h-1zM159 353h1v1h-1zM160 352h1v1h-1zM161 351h1v1h-1zM162 348h1v1h-1zM163 347h1v1h-1zM164 348h1v1h-1zM165 349h1v2h-1zM166 350h1v1h-1zM167 350h1v1h-1zM168 351h1v1h-1zM169 353h1v1h-1zM170 354h1v1h-1zM171 354h1v1h-1zM172 355h1v1h-1zM173 355h1v1h-1zM174 356h1v1h-1zM175 356h1v1h-1zM176 355h1v1h-1zM177 355h1v1h-1zM178 354h1v1h-1zM179 352h1v1h-1zM180 348h1v1h-1zM181 347h1v2h-1zM182 348h1v1h-1zM183 349h1v1h-1zM184 352h1v1h-1zM185 354h1v2h-1zM186 355h1v2h-1zM187 355h1v1h-1zM188 356h1v1h-1zM189 355h1v1h-1zM190 356h1v2h-1zM191 355h1v2h-1zM192 354h1v2h-1zM193 354h1v1h-1zM194 355h1v1h-1zM195 354h1v1h-1zM196 353h1v2h-1zM197 353h1v2h-1zM198 353h1v1h-1zM199 353h1v1h-1zM200 353h1v1h-1zM201 353h1v2h-1zM202 353h1v1h-1zM203 353h1v1h-1zM204 352h1v2h-1zM205 352h1v1h-1zM206 352h1v1h-1zM207 351h1v1h-1zM208 352h1v1h-1zM209 352h1v2h-1zM210 350h1v2h-1zM211 348h1v1h-1zM212 349h1v2h-1zM213 349h1v2h-1zM214 348h1v1h-1zM215 349h1v2h-1zM216 348h1v1h-1zM217 349h1v1h-1zM218 347h1v1h-1zM219 346h1v1h-1zM220 344h1v1h-1zM221 342h1v1h-1zM222 341h1v1h-1zM223 341h1v2h-1zM224 345h1v1h-1zM225 350h1v1h-1zM226 350h1v1h-1zM227 350h1v1h-1zM228 350h1v1h-1zM229 351h1v1h-1zM230 351h1v2h-1zM231 350h1v1h-1zM232 350h1v1h-1zM233 349h1v1h-1zM234 350h1v1h-1zM235 350h1v2h-1zM236 349h1v2h-1zM237 350h1v1h-1zM238 349h1v1h-1zM239 349h1v1h-1zM240 349h1v2h-1zM241 349h1v2h-1zM242 349h1v1h-1zM243 349h1v2h-1zM244 348h1v1h-1zM245 349h1v2h-1zM246 349h1v1h-1zM247 349h1v1h-1zM248 348h1v1h-1zM249 349h1v2h-1zM250 349h1v2h-1zM251 348h1v1h-1zM252 349h1v1h-1zM253 349h1v1h-1zM254 348h1v1h-1zM255 348h1v1h-1zM256 349h1v1h-1zM257 349h1v1h-1zM258 348h1v1h-1zM265 350h1v1h-1zM266 350h1v1h-1zM267 349h1v1h-1zM268 350h1v1h-1zM269 350h1v1h-1zM270 349h1v1h-1zM271 349h1v1h-1zM272 348h1v1h-1zM273 348h1v2h-1zM274 349h1v1h-1zM275 348h1v1h-1zM276 349h1v1h-1zM277 349h1v1h-1zM278 349h1v1h-1zM279 348h1v1h-1zM280 351h1v1h-1zM281 353h1v1h-1zM282 352h1v1h-1zM283 351h1v1h-1zM284 351h1v1h-1zM285 350h1v1h-1zM286 348h1v1h-1zM287 347h1v2h-1zM288 345h1v1h-1zM289 344h1v1h-1zM290 342h1v1h-1zM291 338h1v1h-1zM292 339h1v2h-1zM293 339h1v2h-1zM294 339h1v1h-1zM295 338h1v1h-1zM296 338h1v1h-1zM297 338h1v1h-1zM298 337h1v1h-1zM299 338h1v1h-1zM304 339h1v1h-1zM305 340h1v1h-1zM306 340h1v1h-1zM307 339h1v1h-1zM308 341h1v1h-1zM309 341h1v2h-1zM310 341h1v1h-1zM311 342h1v1h-1zM312 342h1v1h-1zM313 341h1v1h-1zM314 342h1v1h-1zM315 342h1v1h-1zM316 343h1v1h-1zM317 343h1v1h-1zM318 343h1v1h-1zM319 343h1v1h-1zM320 344h1v2h-1zM321 344h1v2h-1zM322 344h1v1h-1zM323 344h1v1h-1zM324 345h1v1h-1zM325 345h1v2h-1zM326 345h1v1h-1zM327 345h1v2h-1zM328 344h1v1h-1zM329 343h1v1h-1zM330 343h1v2h-1zM331 342h1v1h-1zM332 343h1v1h-1zM333 342h1v1h-1zM334 343h1v1h-1zM335 343h1v1h-1zM336 343h1v1h-1zM337 345h1v2h-1zM338 346h1v1h-1zM339 346h1v1h-1zM340 346h1v1h-1zM341 346h1v2h-1zM342 347h1v1h-1zM343 347h1v1h-1zM344 348h1v1h-1zM345 348h1v1h-1zM346 347h1v1h-1zM347 347h1v1h-1zM348 346h1v1h-1zM349 347h1v1h-1zM350 348h1v1h-1zM351 348h1v1h-1zM352 347h1v1h-1zM353 348h1v1h-1zM354 348h1v1h-1zM355 347h1v1h-1zM356 348h1v1h-1zM357 347h1v1h-1zM358 348h1v1h-1zM359 348h1v1h-1zM360 348h1v2h-1zM361 348h1v2h-1zM362 348h1v2h-1zM363 348h1v1h-1zM364 348h1v2h-1zM365 349h1v2h-1zM366 349h1v1h-1zM367 348h1v1h-1zM368 349h1v1h-1zM369 349h1v2h-1zM370 349h1v1h-1zM371 350h1v1h-1zM372 349h1v1h-1zM373 350h1v1h-1zM374 350h1v1h-1zM375 350h1v1h-1zM376 350h1v1h-1zM377 351h1v1h-1zM378 350h1v1h-1zM379 351h1v1h-1zM380 352h1v2h-1zM381 351h1v1h-1zM382 351h1v2h-1zM383 350h1v1h-1zM384 350h1v1h-1zM385 350h1v1h-1zM386 350h1v1h-1zM387 350h1v1h-1zM388 350h1v1h-1zM389 349h1v1h-1zM390 348h1v1h-1zM391 349h1v2h-1zM392 348h1v1h-1zM393 348h1v1h-1zM394 348h1v1h-1zM395 347h1v1h-1zM396 348h1v1h-1zM397 349h1v1h-1zM398 348h1v1h-1zM399 348h1v1h-1zM400 348h1v1h-1zM401 349h1v1h-1zM402 348h1v1h-1zM403 348h1v1h-1zM404 349h1v1h-1zM405 349h1v2h-1zM406 348h1v1h-1zM407 349h1v1h-1zM408 349h1v1h-1zM409 349h1v1h-1zM410 349h1v2h-1zM411 349h1v1h-1zM412 349h1v1h-1zM413 349h1v1h-1zM414 350h1v1h-1zM415 349h1v1h-1zM416 350h1v1h-1zM417 350h1v2h-1zM418 351h1v1h-1zM419 351h1v1h-1zM420 352h1v1h-1zM421 352h1v1h-1zM422 353h1v1h-1zM423 352h1v1h-1zM424 353h1v1h-1zM425 353h1v1h-1zM426 354h1v1h-1zM427 354h1v1h-1zM428 353h1v1h-1zM429 354h1v1h-1zM430 353h1v1h-1zM431 353h1v2h-1zM432 353h1v2h-1zM433 353h1v2h-1zM434 353h1v1h-1zM435 353h1v1h-1zM436 353h1v2h-1zM437 353h1v2h-1zM438 353h1v1h-1zM439 353h1v2h-1zM440 353h1v1h-1zM441 353h1v1h-1zM442 353h1v2h-1zM443 353h1v1h-1zM444 349h1v1h-1zM445 346h1v1h-1zM446 345h1v2h-1zM447 348h1v1h-1zM448 349h1v1h-1zM449 350h1v1h-1zM450 351h1v1h-1zM451 352h1v1h-1zM452 353h1v1h-1zM453 352h1v1h-1zM454 353h1v1h-1zM455 353h1v1h-1zM456 353h1v1h-1zM457 354h1v1h-1zM458 353h1v1h-1zM459 354h1v1h-1zM460 355h1v1h-1zM461 354h1v1h-1zM462 353h1v1h-1zM463 353h1v1h-1zM464 354h1v1h-1zM465 353h1v1h-1zM466 354h1v1h-1zM467 353h1v1h-1zM468 353h1v1h-1zM469 353h1v1h-1zM470 353h1v1h-1zM471 353h1v2h-1zM472 353h1v1h-1zM473 353h1v1h-1zM474 352h1v1h-1zM475 352h1v2h-1zM476 352h1v1h-1zM477 352h1v1h-1zM478 352h1v2h-1zM479 352h1v1h-1zM480 352h1v1h-1zM481 352h1v1h-1zM482 351h1v1h-1zM483 349h1v2h-1zM484 345h1v1h-1zM485 343h1v1h-1zM486 344h1v1h-1zM487 345h1v1h-1zM488 347h1v1h-1zM489 349h1v2h-1zM490 349h1v1h-1zM491 349h1v2h-1zM492 350h1v1h-1zM493 350h1v1h-1zM494 351h1v1h-1zM495 352h1v1h-1zM496 352h1v1h-1zM497 353h1v1h-1zM498 354h1v1h-1zM499 354h1v1h-1zM500 354h1v1h-1zM501 354h1v1h-1zM502 354h1v1h-1zM503 354h1v2h-1zM504 354h1v1h-1zM505 354h1v1h-1zM506 353h1v1h-1zM507 353h1v1h-1zM508 352h1v2h-1zM509 353h1v1h-1zM510 352h1v1h-1zM511 352h1v1h-1zM512 353h1v2h-1zM513 352h1v1h-1zM514 351h1v1h-1zM515 351h1v2h-1zM516 352h1v2h-1zM517 352h1v1h-1zM518 351h1v1h-1zM519 351h1v1h-1zM520 350h1v1h-1zM521 349h1v2h-1zM522 345h1v1h-1zM523 340h1v1h-1zM524 341h1v1h-1zM525 343h1v1h-1zM526 346h1v1h-1zM527 348h1v1h-1zM528 350h1v1h-1zM529 351h1v1h-1zM530 351h1v1h-1zM531 352h1v1h-1zM532 351h1v1h-1zM533 351h1v2h-1zM534 352h1v2h-1zM535 352h1v2h-1zM536 352h1v1h-1zM537 352h1v1h-1zM538 352h1v1h-1zM539 353h1v1h-1zM540 353h1v1h-1zM541 353h1v1h-1zM542 353h1v1h-1zM543 353h1v1h-1zM544 353h1v2h-1zM545 353h1v2h-1zM546 353h1v1h-1zM547 353h1v1h-1zM548 354h1v1h-1zM549 354h1v1h-1zM550 353h1v1h-1zM551 354h1v2h-1zM552 353h1v1h-1zM553 353h1v1h-1zM554 353h1v1h-1zM555 353h1v1h-1zM556 353h1v1h-1zM557 354h1v1h-1zM558 353h1v1h-1zM559 353h1v1h-1zM560 353h1v1h-1zM567 354h1v1h-1zM568 355h1v2h-1zM569 356h1v1h-1zM570 355h1v2h-1zM571 356h1v1h-1zM572 356h1v1h-1zM573 356h1v1h-1zM574 356h1v1h-1zM575 355h1v1h-1zM576 355h1v1h-1zM577 357h1v1h-1zM578 356h1v1h-1zM579 356h1v1h-1zM580 356h1v1h-1zM581 356h1v1h-1zM582 356h1v1h-1zM583 356h1v1h-1zM584 356h1v1h-1zM585 356h1v1h-1zM586 356h1v1h-1zM587 356h1v1h-1zM588 356h1v1h-1zM589 357h1v1h-1zM590 356h1v1h-1zM591 356h1v1h-1zM592 356h1v1h-1zM593 357h1v1h-1zM594 356h1v1h-1zM595 355h1v1h-1zM596 355h1v1h-1zM597 355h1v1h-1zM598 355h1v1h-1zM599 354h1v1h-1zM600 353h1v1h-1zM601 349h1v1h-1zM602 344h1v1h-1zM603 344h1v1h-1zM604 351h1v1h-1zM605 356h1v1h-1zM606 356h1v1h-1zM607 359h1v1h-1zM608 360h1v1h-1zM609 361h1v1h-1zM610 362h1v1h-1zM611 362h1v1h-1zM612 363h1v1h-1zM613 362h1v1h-1zM614 363h1v1h-1zM615 364h1v1h-1zM616 364h1v1h-1zM617 364h1v2h-1zM618 364h1v1h-1zM619 364h1v1h-1zM620 364h1v2h-1zM621 363h1v1h-1zM622 362h1v1h-1zM623 362h1v1h-1zM262 317h1v1h-1zM261 319h1v1h-1zM262 321h1v1h-1zM261 324h1v1h-1zM259 336h1v1h-1zM263 341h1v1h-1zM263 343h1v1h-1zM264 345h1v1h-1zM264 347h1v1h-1zM265 348h1v1h-1zM563 321h1v1h-1zM562 324h1v1h-1zM564 327h1v1h-1zM564 334h1v1h-1zM561 342h1v1h-1zM564 341h1v1h-1zM566 348h1v1h-1zM566 350h1v1h-1zM567 351h1v1h-1zM301 316h1v1h-1zM301 313h1v1h-1zM300 310h1v1h-1zM301 309h1v1h-1zM302 328h1v1h-1zM302 331h1v1h-1zM301 324h1v1h-1zM219 336h1v1h-1zM221 334h1v1h-1zM223 336h1v1h-1zM222 338h1v1h-1zM523 335h1v1h-1zM524 336h1v1h-1zM526 341h1v1h-1zM526 343h1v1h-1zM525 345h1v1h-1zM485 338h1v1h-1zM603 340h1v1h-1zM604 343h1v1h-1zM602 349h1v1h-1zM279 358h1v1h-1zM69 370h1v1h-1zM70 369h1v1h-1zM75 374h1v1h-1zM81 375h1v1h-1zM86 373h1v1h-1zM116 376h1v1h-1zM122 374h1v1h-1zM127 357h1v1h-1zM162 369h1v1h-1zM172 360h1v1h-1zM183 356h1v1h-1zM199 362h1v1h-1zM203 357h1v1h-1zM214 359h1v1h-1zM216 365h1v1h-1zM219 350h1v1h-1zM224 349h1v1h-1zM230 362h1v1h-1zM237 356h1v1h-1zM244 357h1v1h-1zM251 367h1v1h-1zM283 356h1v1h-1zM291 348h1v1h-1zM292 357h1v1h-1zM293 343h1v1h-1zM302 353h1v1h-1zM309 350h1v1h-1zM330 358h1v1h-1zM340 354h1v1h-1zM345 360h1v1h-1zM348 352h1v1h-1zM368 356h1v1h-1zM376 362h1v1h-1zM387 358h1v1h-1zM389 365h1v1h-1zM404 358h1v1h-1zM412 354h1v1h-1zM414 369h1v1h-1zM430 363h1v1h-1zM433 361h1v1h-1zM454 359h1v1h-1zM456 372h1v1h-1zM466 361h1v1h-1zM480 358h1v1h-1zM484 354h1v1h-1zM495 358h1v1h-1zM498 362h1v1h-1zM505 364h1v1h-1zM506 360h1v1h-1zM509 364h1v1h-1zM518 365h1v1h-1zM539 359h1v1h-1zM547 363h1v1h-1zM554 359h1v1h-1zM561 363h1v1h-1zM569 378h1v1h-1zM572 361h1v1h-1zM586 366h1v1h-1zM601 371h1v1h-1zM603 352h1v1h-1zM608 368h1v1h-1zM612 376h1v1h-1zM614 376h1v1h-1zM618 371h1v1h-1zM56 378h1v1h-1zM63 384h1v1h-1zM72 390h1v1h-1zM102 371h1v1h-1zM201 374h1v1h-1z"/>
</g>
<text x="157.02" y="20" font-size="14" textLength="32.36" lengthAdjust="spacingAndGlyphs">GOES</text><text x="195.42" y="20" font-size="14" textLength="17.96" lengthAdjust="spacingAndGlyphs">0.1</text><text x="213.62" y="20" font-size="14" textLength="14.16" lengthAdjust="spacingAndGlyphs">−</text><text x="227.02" y="20" font-size="14" textLength="38.96" lengthAdjust="spacingAndGlyphs">0.8nm</text><text x="271.42" y="20" font-size="14" textLength="33.96" lengthAdjust="spacingAndGlyphs">(red),</text><text x="311.42" y="20" font-size="14" textLength="30.56" lengthAdjust="spacingAndGlyphs">LYRA</text><text x="346.42" y="20" font-size="14" textLength="11.96" lengthAdjust="spacingAndGlyphs">Al</text><text x="363.72" y="20" font-size="14" textLength="37.76" lengthAdjust="spacingAndGlyphs">(blue)</text><text x="406.02" y="20" font-size="14" textLength="9.96" lengthAdjust="spacingAndGlyphs">&amp;</text><text x="423.02" y="20" font-size="14" textLength="14.96" lengthAdjust="spacingAndGlyphs">Zr</text><text x="443.22" y="20" font-size="14" textLength="36.76" lengthAdjust="spacingAndGlyphs">(grey)</text><text x="485.82" y="20" font-size="14" textLength="33.86" lengthAdjust="spacingAndGlyphs">proxy</text>
<text x="266.72" y="470" font-size="9.7" textLength="25.96" lengthAdjust="spacingAndGlyphs" stroke="#000" stroke-width="0.3">Time</text><text x="307.32" y="470" font-size="9.7" textLength="5.76" lengthAdjust="spacingAndGlyphs" stroke="#000" stroke-width="0.3">h</text><text x="317.92" y="470" font-size="9.7" textLength="22.06" lengthAdjust="spacingAndGlyphs" stroke="#000" stroke-width="0.3">UTC,</text><text x="345.52" y="470" font-size="9.7" textLength="12.36" lengthAdjust="spacingAndGlyphs" stroke="#000" stroke-width="0.3">02</text><text x="362.72" y="470" font-size="9.7" textLength="18.56" lengthAdjust="spacingAndGlyphs" stroke="#000" stroke-width="0.3">Apr</text><text x="386.82" y="470" font-size="9.7" textLength="22.86" lengthAdjust="spacingAndGlyphs" stroke="#000" stroke-width="0.3">2018</text><text transform="translate(294.6,472.6) skewX(-19) scale(1,1.3)" font-size="12">/</text>
<text x="488.47" y="495" font-size="10.4" textLength="55.06" lengthAdjust="spacingAndGlyphs" stroke="#000" stroke-width="0.3">ROB/SIDC,</text><text x="548.57" y="495" font-size="10.4" textLength="45.96" lengthAdjust="spacingAndGlyphs" stroke="#000" stroke-width="0.3">Brussels,</text><text x="600.87" y="495" font-size="10.4" textLength="41.96" lengthAdjust="spacingAndGlyphs" stroke="#000" stroke-width="0.3">Belgium</text>
<g transform="translate(27,289.5) rotate(-90)"><text x="-0.63" y="0" font-size="9" textLength="20.26" lengthAdjust="spacingAndGlyphs" stroke="#000" stroke-width="0.3">GOES</text><text x="21.37" y="0" font-size="9" textLength="38.06" lengthAdjust="spacingAndGlyphs" stroke="#000" stroke-width="0.3">Irradiance</text><text x="72.37" y="0" font-size="9" textLength="12.76" lengthAdjust="spacingAndGlyphs" stroke="#000" stroke-width="0.3">(W</text><text x="87.37" y="0" font-size="9" textLength="7.26" lengthAdjust="spacingAndGlyphs" stroke="#000" stroke-width="0.3">m</text><text x="103.87" y="0" font-size="9" textLength="5.26" lengthAdjust="spacingAndGlyphs" stroke="#000" stroke-width="0.3">)</text><text x="94.89" y="-4" font-size="5.8" textLength="9.21" lengthAdjust="spacingAndGlyphs" font-weight="bold" stroke="#000" stroke-width="0.3">−2</text><text transform="translate(61.4,2.4) skewX(-19) scale(1,1.3)" font-size="11">/</text></g>
<text x="48.31" y="458" font-size="9.9" textLength="7.79" lengthAdjust="spacingAndGlyphs" stroke="#000" stroke-width="0.3">0</text><text x="167.81" y="458" font-size="9.9" textLength="7.39" lengthAdjust="spacingAndGlyphs" stroke="#000" stroke-width="0.3">5</text><text x="283.91" y="458" font-size="9.9" textLength="13.79" lengthAdjust="spacingAndGlyphs" stroke="#000" stroke-width="0.3">10</text><text x="404.51" y="458" font-size="9.9" textLength="11.79" lengthAdjust="spacingAndGlyphs" stroke="#000" stroke-width="0.3">15</text><text x="522.71" y="458" font-size="9.9" textLength="12.99" lengthAdjust="spacingAndGlyphs" stroke="#000" stroke-width="0.3">20</text>
<text x="33.31" y="30" font-size="8.4" textLength="9.28" lengthAdjust="spacingAndGlyphs" stroke="#000" stroke-width="0.3">10</text><text x="42.79" y="26" font-size="5.8" textLength="7.61" lengthAdjust="spacingAndGlyphs" font-weight="bold" stroke="#000" stroke-width="0.3">−4</text><text x="33.31" y="133" font-size="8.4" textLength="9.28" lengthAdjust="spacingAndGlyphs" stroke="#000" stroke-width="0.3">10</text><text x="42.79" y="129" font-size="5.8" textLength="7.61" lengthAdjust="spacingAndGlyphs" font-weight="bold" stroke="#000" stroke-width="0.3">−5</text><text x="33.31" y="238" font-size="8.4" textLength="9.28" lengthAdjust="spacingAndGlyphs" stroke="#000" stroke-width="0.3">10</text><text x="42.79" y="234" font-size="5.8" textLength="7.61" lengthAdjust="spacingAndGlyphs" font-weight="bold" stroke="#000" stroke-width="0.3">−6</text><text x="33.31" y="343" font-size="8.4" textLength="9.28" lengthAdjust="spacingAndGlyphs" stroke="#000" stroke-width="0.3">10</text><text x="42.79" y="339" font-size="5.8" textLength="7.61" lengthAdjust="spacingAndGlyphs" font-weight="bold" stroke="#000" stroke-width="0.3">−7</text><text x="33.31" y="445" font-size="8.4" textLength="9.28" lengthAdjust="spacingAndGlyphs" stroke="#000" stroke-width="0.3">10</text><text x="42.79" y="441" font-size="5.8" textLength="7.61" lengthAdjust="spacingAndGlyphs" font-weight="bold" stroke="#000" stroke-width="0.3">−8</text>
<text x="631.26" y="80" font-size="10.6" textLength="7.48" lengthAdjust="spacingAndGlyphs" stroke="#000" stroke-width="0.3">M</text><text x="631.26" y="185" font-size="10.6" textLength="7.48" lengthAdjust="spacingAndGlyphs" stroke="#000" stroke-width="0.3">C</text><text x="631.26" y="290" font-size="10.6" textLength="7.48" lengthAdjust="spacingAndGlyphs" stroke="#000" stroke-width="0.3">B</text><text x="631.26" y="395" font-size="10.6" textLength="7.48" lengthAdjust="spacingAndGlyphs" stroke="#000" stroke-width="0.3">A</text>
</svg>
</body></html>
